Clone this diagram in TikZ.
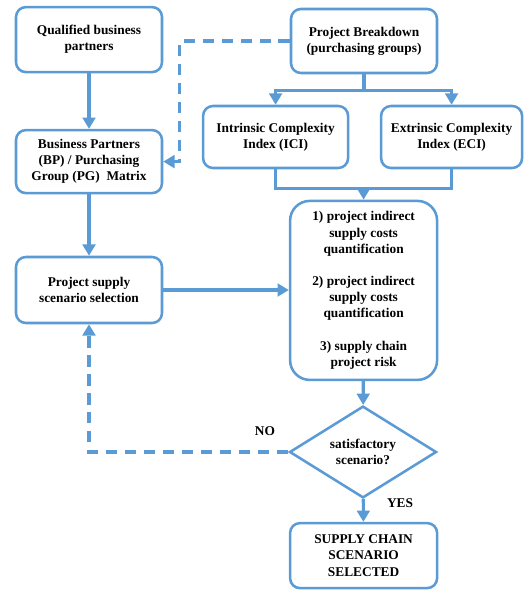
\documentclass[tikz,border=0pt]{standalone}
\usepackage{fontspec}
\setmainfont{Liberation Serif}
\usetikzlibrary{arrows.meta, shapes.geometric}
\definecolor{flowblue}{RGB}{91,155,213}
\begin{document}
\begin{tikzpicture}[
		box/.style={draw=flowblue, line width=1.8pt, rounded corners=7pt, fill=white, minimum width=3.65cm, align=center, font=\fontsize{9.5}{11.5}\selectfont\bfseries},
		flowarrow/.style={flowblue, line width=2.2pt, -{Triangle[length=8pt, width=9pt]}},
		flowline/.style={flowblue, line width=2.2pt},
		lbl/.style={font=\fontsize{9.5}{11}\selectfont\bfseries},
		dashline/.style={dash pattern=on 8pt off 5.5pt}
	]
	\useasboundingbox (0,0) rectangle (13.15,-14.75);

	\node[box, minimum height=1.625cm] (qbp) at (2.225, -0.99) {Qualified business\\partners};
	\node[box, minimum height=1.6cm] (pb) at (9.1, -1.025) {Project Breakdown\\(purchasing groups)};
	\node[box, minimum width=3.625cm, minimum height=1.55cm] (ici) at (6.89, -3.425) {Intrinsic Complexity\\Index (ICI)};
	\node[box, minimum width=3.525cm, minimum height=1.55cm] (eci) at (11.29, -3.425) {Extrinsic Complexity\\Index (ECI)};
	\node[box, minimum height=1.575cm] (bpm) at (2.225, -4.04) {Business Partners\\(BP) / Purchasing\\Group (PG)~ Matrix};
	\node[box, minimum height=1.65cm] (pss) at (2.225, -7.25) {Project supply\\scenario selection};
	\node[box, minimum width=3.675cm, minimum height=4.475cm, rounded corners=14pt] (calc) at (9.09, -7.26) {1) project indirect\\supply costs\\quantification\\[11.5pt]2) project indirect\\supply costs\\quantification\\[11.5pt]3) supply chain\\project risk};
	\node[box, shape=diamond, rounded corners=0pt, minimum width=3.675cm, minimum height=2.05cm, inner sep=0pt] (dec) at (9.075, -11.3) {satisfactory\\scenario?};
	\node[box, minimum width=3.675cm, minimum height=1.625cm] (scs) at (9.09, -13.89) {SUPPLY CHAIN\\SCENARIO\\SELECTED};

	\node[lbl] (no) at (6.625, -10.78) {NO};
	\node[lbl] (yes) at (10.0, -12.58) {YES};

	\draw[flowarrow] (qbp) -- (bpm);
	\draw[flowarrow, dashline] (pb.west) -- ++(-2.75,0) |- (bpm.east);
	\draw[flowarrow] (pb.south) -- ++(0,-0.4) -| (ici.north);
	\draw[flowarrow] (pb.south) -- ++(0,-0.4) -| (eci.north);
	\draw[flowline] (ici.south) -- ++(0,-0.475) -| (eci.south);
	\draw[flowarrow] (ici.south) ++(0,-0.475) -| (calc.north);
	\draw[flowarrow] (bpm) -- (pss);
	\draw[flowarrow] (pss.east) -- (calc.west |- pss.east);
	\draw[flowarrow] (calc) -- (dec);
	\draw[flowarrow] (dec) -- (scs);
	\draw[flowarrow, dashline] (dec.west) -| (pss.south);
\end{tikzpicture}
\end{document}
